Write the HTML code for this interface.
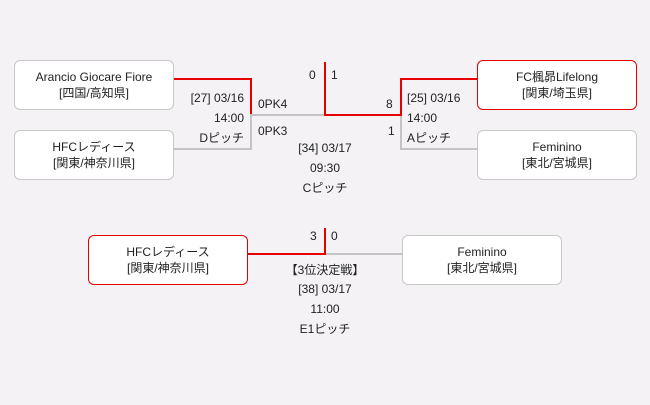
<!DOCTYPE html>
<html><head><meta charset="utf-8"><style>
body{margin:0;width:650px;height:405px;background:#f4f2f5;position:relative;overflow:hidden;font-family:"Liberation Sans","Noto Sans CJK JP",sans-serif;font-size:12px;color:#222}
.b{position:absolute;width:158px;height:48px;background:#fff;border:1px solid #c8c8c8;border-radius:6px;text-align:center;line-height:16px;display:flex;flex-direction:column;justify-content:center}
.r{border-color:#e60000}
.l{position:absolute;background:#c4c4c4}
.lr{position:absolute;background:#e60000}
.t{position:absolute;line-height:14px;white-space:nowrap}
.c{width:120px;text-align:center}
</style></head><body>
<div class="b" style="left:14px;top:60px">Arancio Giocare Fiore<br>[四国/高知県]</div>
<div class="b" style="left:14px;top:130px">HFCレディース<br>[関東/神奈川県]</div>
<div class="b r" style="left:477px;top:60px">FC楓昴Lifelong<br>[関東/埼玉県]</div>
<div class="b" style="left:477px;top:130px">Feminino<br>[東北/宮城県]</div>
<div class="b r" style="left:88px;top:235px">HFCレディース<br>[関東/神奈川県]</div>
<div class="b" style="left:402px;top:235px">Feminino<br>[東北/宮城県]</div>

<div class="lr" style="left:174px;top:78px;width:78px;height:2px"></div>
<div class="lr" style="left:250px;top:78px;width:2px;height:37px"></div>
<div class="l" style="left:174px;top:148px;width:78px;height:2px"></div>
<div class="l" style="left:250px;top:115px;width:2px;height:35px"></div>
<div class="l" style="left:250px;top:114px;width:75px;height:2px"></div>
<div class="lr" style="left:324px;top:62px;width:2px;height:54px"></div>
<div class="lr" style="left:324px;top:114px;width:78px;height:2px"></div>
<div class="lr" style="left:400px;top:78px;width:2px;height:38px"></div>
<div class="lr" style="left:400px;top:78px;width:77px;height:2px"></div>
<div class="l" style="left:400px;top:116px;width:2px;height:34px"></div>
<div class="l" style="left:400px;top:148px;width:77px;height:2px"></div>

<div class="lr" style="left:248px;top:253px;width:78px;height:2px"></div>
<div class="lr" style="left:324px;top:228px;width:2px;height:27px"></div>
<div class="l" style="left:326px;top:253px;width:76px;height:2px"></div>

<div class="t" style="left:309px;top:68px">0</div>
<div class="t" style="left:331px;top:68px">1</div>
<div class="t" style="left:258px;top:97px">0PK4</div>
<div class="t" style="left:258px;top:124px">0PK3</div>
<div class="t" style="left:124px;top:91px;width:120px;text-align:right">[27] 03/16</div>
<div class="t" style="left:124px;top:111px;width:120px;text-align:right">14:00</div>
<div class="t" style="left:124px;top:131px;width:120px;text-align:right">Dピッチ</div>
<div class="t c" style="left:265px;top:141px">[34] 03/17</div>
<div class="t c" style="left:265px;top:161px">09:30</div>
<div class="t c" style="left:265px;top:181px">Cピッチ</div>
<div class="t" style="left:386px;top:97px">8</div>
<div class="t" style="left:388px;top:124px">1</div>
<div class="t" style="left:407px;top:91px">[25] 03/16</div>
<div class="t" style="left:407px;top:111px">14:00</div>
<div class="t" style="left:407px;top:131px">Aピッチ</div>

<div class="t" style="left:310px;top:229px">3</div>
<div class="t" style="left:331px;top:229px">0</div>
<div class="t c" style="left:265px;top:263px">【3位決定戦】</div>
<div class="t c" style="left:265px;top:282px">[38] 03/17</div>
<div class="t c" style="left:265px;top:302px">11:00</div>
<div class="t c" style="left:265px;top:322px">E1ピッチ</div>
</body></html>
